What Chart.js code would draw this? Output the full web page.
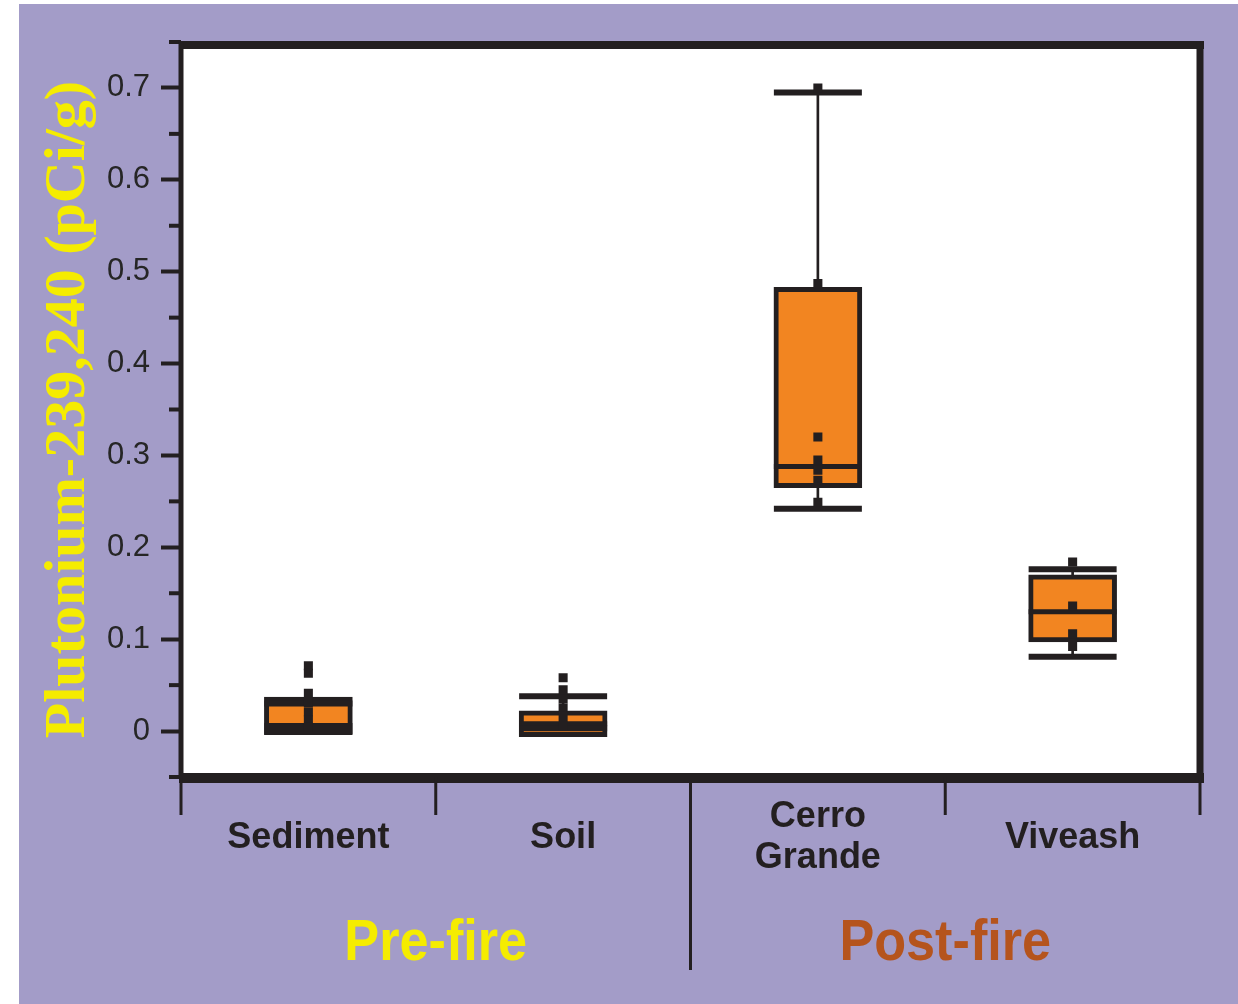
<!DOCTYPE html>
<html>
<head>
<meta charset="utf-8">
<script src="https://cdn.jsdelivr.net/npm/chart.js@4/dist/chart.umd.min.js"></script>
<style>
  html, body { margin: 0; padding: 0; background: #ffffff; }
  #wrap { position: absolute; left: 19px; top: 4px; width: 1219px; height: 1000px; background: #a39cc8; }
  canvas { display: block; }
</style>
</head>
<body>
<div id="wrap"><canvas id="c" width="1219" height="1000"></canvas></div>
<script>
// ---- data ----
const categories = ['Sediment', 'Soil', 'Cerro Grande', 'Viveash'];
const boxLow = [-0.004, -0.006, 0.265, 0.097];
const boxHigh = [0.037, 0.022, 0.483, 0.170];
const medians = [0.006, 0.008, 0.288, 0.130];
const whiskerLow = [0.000, 0.003, 0.242, 0.081];
const whiskerHigh = [0.030, 0.038, 0.695, 0.176];
const sedimentPoints = [0.071, 0.063, 0.041, 0.031, 0.021, 0.012, 0.004];
const soilPoints = [0.058, 0.045, 0.035, 0.025, 0.016, 0.006];
const cerroGrandePoints = [0.700, 0.487, 0.320, 0.295, 0.284, 0.273, 0.249];
const viveashPoints = [0.184, 0.136, 0.106, 0.092];
const yTickValues = [0, 0.1, 0.2, 0.3, 0.4, 0.5, 0.6, 0.7];
const yTickLabels = ['0', '0.1', '0.2', '0.3', '0.4', '0.5', '0.6', '0.7'];
const yMinorTicks = [-0.05, 0.05, 0.15, 0.25, 0.35, 0.45, 0.55, 0.65, 0.75];
const groupNames = ['Pre-fire', 'Post-fire'];
const groupFirst = [0, 2];
const groupLast = [1, 3];
const yTitle = 'Plutonium-239,240 (pCi/g)';

const BLACK = '#231f20';
const ORANGE = '#f28521';
const groupColors = ['#f5ec00', '#b5541d'];

const allPoints = [sedimentPoints, soilPoints, cerroGrandePoints, viveashPoints];
const pointData = [];
allPoints.forEach((arr, i) => arr.forEach(v => pointData.push({ x: categories[i], y: v })));

const decor = {
  id: 'decor',
  beforeDraw(chart) {
    const { ctx, chartArea: a } = chart;
    ctx.save();
    ctx.fillStyle = '#ffffff';
    ctx.fillRect(a.left, a.top, a.right - a.left, a.bottom - a.top);
    ctx.restore();
  },
  afterDraw(chart) {
    const { ctx, chartArea: a, scales: { x, y } } = chart;
    ctx.save();
    ctx.strokeStyle = BLACK;
    ctx.lineCap = 'butt';
    // minor ticks
    ctx.lineWidth = 4;
    yMinorTicks.forEach(v => {
      const py = y.getPixelForValue(v);
      ctx.beginPath(); ctx.moveTo(a.left - 12, py); ctx.lineTo(a.left, py); ctx.stroke();
    });
    // frame
    ctx.lineWidth = 8;
    ctx.beginPath(); ctx.moveTo(a.left - 2, a.top + 3); ctx.lineTo(a.right + 4, a.top + 3); ctx.stroke();
    ctx.lineWidth = 7;
    ctx.beginPath(); ctx.moveTo(a.right, a.top); ctx.lineTo(a.right, a.bottom); ctx.stroke();
    ctx.lineWidth = 5;
    ctx.beginPath(); ctx.moveTo(a.left, a.top); ctx.lineTo(a.left, a.bottom); ctx.stroke();
    ctx.lineWidth = 10;
    ctx.beginPath(); ctx.moveTo(a.left - 2, a.bottom + 1); ctx.lineTo(a.right + 4, a.bottom + 1); ctx.stroke();
    // separators below axis
    const n = categories.length;
    ctx.lineWidth = 3;
    for (let i = 0; i <= n; i++) {
      const px = i === 0 ? a.left : (i === n ? a.right : (x.getPixelForValue(i - 1) + x.getPixelForValue(i)) / 2);
      const isGroupEdge = groupFirst.includes(i) && i !== 0;
      ctx.beginPath(); ctx.moveTo(px, a.bottom); ctx.lineTo(px, a.bottom + (isGroupEdge ? 193 : 38)); ctx.stroke();
    }
    // group labels
    ctx.font = 'bold 58px "Liberation Sans", Arial, sans-serif';
    ctx.textAlign = 'center';
    ctx.textBaseline = 'alphabetic';
    groupNames.forEach((g, k) => {
      const cx = (x.getPixelForValue(groupFirst[k]) + x.getPixelForValue(groupLast[k])) / 2;
      ctx.save();
      ctx.translate(cx, a.bottom + 183);
      ctx.scale(0.9, 1);
      ctx.fillStyle = groupColors[k];
      ctx.fillText(g, 0, 0);
      ctx.restore();
    });
    ctx.restore();
  }
};

new Chart(document.getElementById('c'), {
  type: 'bar',
  data: {
    labels: categories,
    datasets: [
      {
        type: 'line', label: 'points', data: pointData, showLine: false, order: 0,
        pointStyle: 'rect', pointRadius: 6.4, pointBorderWidth: 0, pointBackgroundColor: BLACK
      },
      {
        type: 'line', label: 'caps high', data: whiskerHigh, showLine: false, order: 1,
        pointStyle: 'line', pointRadius: 44, pointBorderWidth: 6, pointBorderColor: BLACK
      },
      {
        type: 'line', label: 'caps low', data: whiskerLow, showLine: false, order: 1,
        pointStyle: 'line', pointRadius: 44, pointBorderWidth: 6, pointBorderColor: BLACK
      },
      {
        type: 'line', label: 'median', data: medians, showLine: false, order: 2,
        pointStyle: 'line', pointRadius: 44, pointBorderWidth: 5, pointBorderColor: BLACK
      },
      {
        type: 'bar', label: 'box', data: categories.map((c, i) => [boxLow[i], boxHigh[i]]), order: 3,
        backgroundColor: ORANGE, borderColor: BLACK, borderWidth: 5, borderSkipped: false,
        barThickness: 88, grouped: false
      },
      {
        type: 'bar', label: 'whisker', data: categories.map((c, i) => [whiskerLow[i], whiskerHigh[i]]), order: 4,
        backgroundColor: BLACK, borderWidth: 0, barThickness: 2, grouped: false
      }
    ]
  },
  options: {
    responsive: false,
    animation: false,
    layout: { autoPadding: false, padding: { top: 38, right: 38, left: 0, bottom: 0 } },
    plugins: { legend: { display: false }, tooltip: { enabled: false } },
    scales: {
      x: {
        offset: true,
        grid: { display: false, drawTicks: false },
        border: { display: false },
        ticks: {
          padding: 40,
          crossAlign: 'center',
          color: BLACK,
          font: { family: '"Liberation Sans", Arial, sans-serif', size: 36, weight: 'bold', lineHeight: 1.15 },
          callback: (v, i) => categories[i].includes(' ') ? categories[i].split(' ') : categories[i]
        },
        afterFit: s => { s.height = 227; }
      },
      y: {
        min: -0.05, max: 0.75,
        afterBuildTicks: s => { s.ticks = yTickValues.map(v => ({ value: v })); },
        grid: { drawOnChartArea: false, drawTicks: true, tickLength: 20, tickWidth: 4, tickColor: BLACK },
        border: { display: false },
        ticks: {
          padding: 11,
          color: '#262626',
          font: { family: '"Liberation Sans", Arial, sans-serif', size: 31 },
          callback: (v, i) => yTickLabels[i]
        },
        title: {
          display: true, text: yTitle, color: '#f5ec00',
          font: { family: '"Liberation Serif", "Times New Roman", serif', size: 58, weight: 'bold', lineHeight: 1.2 },
          padding: { top: 15, bottom: 0 }
        },
        afterFit: s => { s.width = 162; }
      }
    }
  },
  plugins: [decor]
});
</script>
</body>
</html>
